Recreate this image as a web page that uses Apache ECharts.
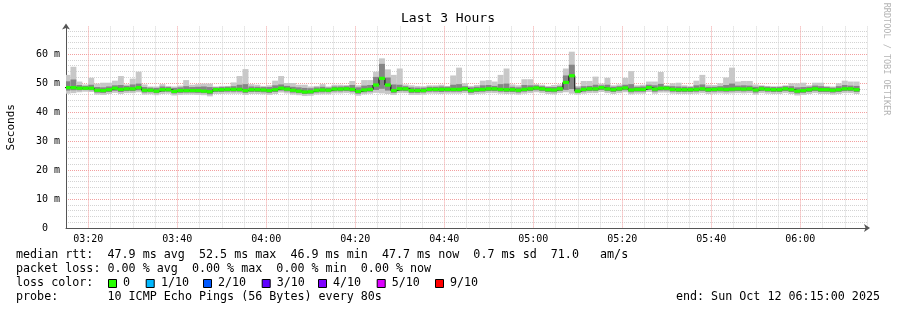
<!DOCTYPE html>
<html><head><meta charset="utf-8">
<script src="https://cdn.jsdelivr.net/npm/echarts@6/dist/echarts.min.js"></script>
<style>html,body{margin:0;padding:0;background:#fff}#c{width:897px;height:310px}</style>
</head><body><div id="c"></div>
<script>
// ---- time layout (minutes after 03:15:00), 80 s steps ----
const stepSeconds = 80;
const firstStepEndMin = 1;            // first 80 s boundary after 03:15:00
const xMinMinutes = 0, xMaxMinutes = 180;
const xTickMinutes = [5, 25, 45, 65, 85, 105, 125, 145, 165];
const xTickLabels = ['03:20','03:40','04:00','04:20','04:40','05:00','05:20','05:40','06:00'];
const yTickValues = [0, 10, 20, 30, 40, 50, 60];
const yTickLabels = ['0  ', '10 m', '20 m', '30 m', '40 m', '50 m', '60 m'];

// ---- per-step values (ms) ----
const med = [
48.4,48.4,48.2,48.2,48.2,47.5,47.4,47.7,48.2,47.8,
48.0,48.0,48.4,47.5,47.5,47.2,47.7,47.7,47.1,47.4,
47.4,47.4,47.4,47.2,47.0,47.7,47.7,47.8,47.8,47.8,
47.4,47.7,47.7,47.6,47.4,47.7,48.2,47.9,47.5,47.2,
46.9,47.0,47.5,47.6,47.5,47.9,47.9,48.0,47.8,47.1,
47.6,47.8,49.3,51.6,49.3,47.4,48.0,48.0,47.4,47.4,
47.4,47.8,47.8,47.8,47.8,47.8,47.8,48.0,47.4,47.7,
47.8,48.0,48.0,47.8,47.7,47.7,47.5,47.8,48.0,48.3,
48.0,47.7,47.6,48.0,50.2,52.5,47.2,47.8,48.0,48.0,
48.4,48.0,47.7,48.0,48.3,47.6,47.8,47.8,48.4,47.9,
48.2,48.2,47.8,47.7,47.7,47.7,47.8,48.0,47.7,47.8,
47.9,47.8,47.9,48.0,47.9,48.0,47.6,48.0,47.8,47.7,
47.7,48.0,47.7,47.2,47.4,47.7,48.0,47.7,47.7,47.5,
47.7,48.0,48.0,47.7];
const maxV = [
52.8,55.6,50.5,49.5,51.8,49.8,50.1,50.1,50.8,52.4,
49.5,51.5,53.9,49.5,48.8,48.8,49.6,49.0,48.8,49.1,
51.0,49.4,49.6,49.8,49.8,48.8,49.0,49.0,50.2,52.4,
54.8,49.6,49.4,49.0,49.2,50.8,52.4,50.0,50.0,49.4,
49.4,48.8,49.0,49.6,48.8,49.4,49.4,49.3,50.7,49.2,
51.0,51.0,53.9,58.5,54.7,52.8,55.0,49.5,49.2,49.0,
48.9,49.2,49.2,49.4,49.0,52.6,55.3,49.9,49.0,49.3,
50.8,51.0,50.5,52.8,55.0,49.5,49.2,51.3,51.3,49.6,
49.4,49.0,49.3,49.5,55.0,60.8,49.0,50.7,50.7,52.2,
49.8,51.8,49.2,49.5,51.8,54.1,49.2,49.4,50.5,50.5,
53.8,49.2,49.9,50.1,49.2,49.0,50.8,52.8,49.4,49.3,
49.9,51.9,55.3,50.5,50.7,50.7,49.5,49.2,49.0,48.9,
49.0,49.2,49.9,49.9,50.1,49.2,50.1,50.1,49.0,48.8,
49.9,50.8,50.5,50.5];
const hiV = [
50.6,51.2,49.3,49.0,49.4,48.6,48.5,48.8,49.2,49.3,
49.0,49.5,49.8,48.6,48.4,48.3,48.8,48.6,48.3,48.5,
48.9,48.6,48.7,48.8,48.6,48.5,48.6,48.7,48.9,49.4,
49.6,48.8,48.7,48.6,48.6,49.2,49.5,49.0,48.7,48.5,
48.3,48.2,48.5,48.7,48.4,48.8,48.8,48.9,49.3,48.5,
49.1,49.3,52.1,56.6,51.9,49.5,49.4,48.9,48.5,48.4,
48.4,48.7,48.7,48.8,48.7,49.4,49.6,48.9,48.5,48.7,
49.2,49.3,49.0,49.6,49.8,48.7,48.5,49.3,49.2,49.2,
48.9,48.6,48.6,48.9,52.6,56.3,48.4,48.9,49.0,49.4,
49.2,49.4,48.7,48.9,49.4,49.6,48.7,48.8,49.4,49.2,
49.7,49.0,48.9,48.8,48.7,48.6,49.2,49.5,48.7,48.7,
48.9,49.3,49.8,49.1,49.2,49.1,48.7,48.9,48.7,48.6,
48.6,48.9,48.9,48.5,48.6,48.7,49.1,48.9,48.6,48.4,
48.9,49.3,49.1,49.0];
const loV = [
47.4,47.5,47.5,47.6,47.5,46.7,46.6,46.9,47.3,46.9,
47.2,47.2,47.5,46.7,46.8,46.5,46.9,47.0,46.4,46.6,
46.7,46.7,46.6,46.5,46.1,46.9,46.9,47.0,47.0,47.0,
46.6,46.9,46.9,46.8,46.6,46.9,47.4,47.1,46.7,46.5,
46.2,46.3,46.7,46.8,46.8,47.1,47.1,47.2,47.0,46.3,
46.8,47.0,47.6,48.0,47.4,46.6,47.2,47.2,46.6,46.6,
46.7,47.0,47.0,46.9,47.0,47.0,47.0,47.2,46.6,46.9,
47.0,47.2,47.2,47.0,46.9,46.9,46.7,47.0,47.2,47.5,
47.2,46.9,46.8,47.2,47.6,47.9,46.6,47.0,47.2,47.2,
47.6,47.2,46.9,47.2,47.5,46.8,47.0,47.0,47.6,47.0,
47.4,47.4,47.0,46.9,46.9,46.9,47.0,47.2,46.9,47.0,
47.1,47.0,47.1,47.2,47.1,47.2,46.7,47.2,47.0,46.9,
46.9,47.2,46.9,46.4,46.6,46.9,47.2,46.9,46.9,46.7,
46.9,47.2,47.2,46.9];
const minV = [
46.3,46.5,46.8,47.0,46.9,46.0,45.9,46.2,46.6,46.2,
46.5,46.5,46.8,46.0,46.1,45.8,46.2,46.3,45.7,45.9,
46.0,46.0,45.9,45.8,45.4,46.2,46.2,46.3,46.3,46.3,
45.9,46.2,46.2,46.1,45.9,46.2,46.7,46.4,46.0,45.8,
45.5,45.6,46.0,46.1,46.1,46.4,46.4,46.5,46.3,45.6,
46.1,46.3,46.6,46.4,46.2,45.9,46.5,46.5,45.9,45.9,
46.0,46.3,46.3,46.2,46.3,46.3,46.3,46.5,45.9,46.2,
46.3,46.5,46.5,46.3,46.2,46.2,46.0,46.3,46.5,46.8,
46.5,46.2,46.1,46.5,46.8,46.3,46.0,46.3,46.5,46.5,
46.9,46.5,46.2,46.5,46.8,46.1,46.3,46.3,46.9,46.3,
46.7,46.7,46.3,46.2,46.2,46.2,46.3,46.5,46.2,46.3,
46.4,46.3,46.4,46.5,46.4,46.5,46.0,46.5,46.3,46.2,
46.2,46.5,46.2,45.7,45.9,46.2,46.5,46.2,46.2,46.0,
46.2,46.5,46.5,46.2];

// ---- legend texts ----
const legendLine1 = 'median rtt:  47.9 ms avg  52.5 ms max  46.9 ms min  47.7 ms now  0.7 ms sd  71.0   am/s';
const legendLine2 = 'packet loss: 0.00 % avg  0.00 % max  0.00 % min  0.00 % now';
const legendLine3 = 'loss color:';
const lossLabels = ['0', '1/10', '2/10', '3/10', '4/10', '5/10', '9/10'];
const lossColors = ['#26ff00', '#00b8ff', '#0059ff', '#5e00ff', '#7e00ff', '#dd00ff', '#ff0000'];
const legendLine4 = 'probe:       10 ICMP Echo Pings (56 Bytes) every 80s';
const endText = 'end: Sun Oct 12 06:15:00 2025';
const titleText = 'Last 3 Hours';
const yName = 'Seconds';
const watermark = 'RRDTOOL / TOBI OETIKER';

// ---- build series data ----
const stepMin = stepSeconds / 60;
const smokeData = [], medData = [], lineData = [];
for (let j = 0; j < med.length; j++) {
  const e = firstStepEndMin + j * stepMin;
  const s = e - stepMin;
  smokeData.push([s, e, minV[j], loV[j], hiV[j], maxV[j]]);
  medData.push([s, e, med[j]]);
  lineData.push([s, med[j]]);
  if (j === med.length - 1) lineData.push([e, med[j]]);
}

const MONO = '"DejaVu Sans Mono", monospace';
const GREY = '#d3d3d3', RED = '#f2a0a0';

function clipR(r, cs) {
  return echarts.graphic.clipRectByRect(r, {x: cs.x, y: cs.y, width: cs.width, height: cs.height});
}
function renderSmoke(params, api) {
  const s = api.value(0), e = api.value(1);
  const cs = params.coordSys;
  const bands = [[2, 5, '#c8c8c8'], [3, 4, '#858585']];
  const children = [];
  for (const [a, b, color] of bands) {
    const p1 = api.coord([s, api.value(b)]);
    const p2 = api.coord([e, api.value(a)]);
    const r = clipR({x: p1[0], y: p1[1], width: p2[0] - p1[0], height: p2[1] - p1[1]}, cs);
    if (r) children.push({type: 'rect', shape: r, style: {fill: color}});
  }
  return {type: 'group', children};
}
function renderMed(params, api) {
  const s = api.value(0), e = api.value(1), v = api.value(2);
  const p1 = api.coord([s, v]), p2 = api.coord([e, v]);
  const r = clipR({x: p1[0], y: p1[1] - 1.6, width: p2[0] - p1[0], height: 3.2}, params.coordSys);
  return r ? {type: 'rect', shape: r, style: {fill: lossColors[0]}} : null;
}

const graphics = [
  {type: 'text', x: 448, y: 19, style: {text: titleText, fontFamily: MONO, fontSize: 13, fill: '#000', align: 'center', verticalAlign: 'middle'}},
  {type: 'text', x: 886, y: 59, rotation: -Math.PI / 2, style: {text: watermark, fontFamily: MONO, fontSize: 8.5, fill: '#b4b4b4', align: 'center', verticalAlign: 'middle'}},
  {type: 'text', x: 16, y: 254.5, style: {text: legendLine1, fontFamily: MONO, fontSize: 11.7, fill: '#000', verticalAlign: 'middle'}},
  {type: 'text', x: 16, y: 268.5, style: {text: legendLine2, fontFamily: MONO, fontSize: 11.7, fill: '#000', verticalAlign: 'middle'}},
  {type: 'text', x: 16, y: 282.5, style: {text: legendLine3, fontFamily: MONO, fontSize: 11.7, fill: '#000', verticalAlign: 'middle'}},
  {type: 'text', x: 16, y: 296.5, style: {text: legendLine4, fontFamily: MONO, fontSize: 11.7, fill: '#000', verticalAlign: 'middle'}},
  {type: 'text', x: 880, y: 296.5, style: {text: endText, fontFamily: MONO, fontSize: 11.7, fill: '#000', align: 'right', verticalAlign: 'middle'}}
];
const boxX = [108, 145.7, 203, 261.7, 318, 376.7, 435];
const labX = [123, 161, 218, 276.7, 333, 391.7, 450];
for (let i = 0; i < lossLabels.length; i++) {
  graphics.push({type: 'rect', x: boxX[i], y: 279, shape: {x: 0.5, y: 0.5, width: 8, height: 8}, style: {fill: lossColors[i], stroke: '#000', lineWidth: 1}});
  graphics.push({type: 'text', x: labX[i], y: 282.5, style: {text: lossLabels[i], fontFamily: MONO, fontSize: 11.7, fill: '#000', verticalAlign: 'middle'}});
}

const chart = echarts.init(document.getElementById('c'), null, {renderer: 'canvas'});
chart.setOption({
  animation: false,
  backgroundColor: '#fff',
  grid: {left: 66, right: 30, top: 26.45, bottom: 82, containLabel: false, outerBoundsMode: 'none'},
  xAxis: {
    type: 'value', min: xMinMinutes, max: xMaxMinutes, interval: 5,
    axisLine: {show: true, lineStyle: {color: '#555', width: 1}, symbol: ['none', 'arrow'], symbolSize: [6, 6], symbolOffset: [0, 3]},
    axisTick: {show: false},
    // lines every 5 min from 03:20; every 4th (03:20, 03:40, ...) is a major line
    splitLine: {show: true, showMinLine: false, lineStyle: {color: [RED, GREY, GREY, GREY], type: [1, 1], width: 1}},
    axisLabel: {
      margin: 6, fontFamily: MONO, fontSize: 10, color: '#000',
      formatter: v => { const i = xTickMinutes.indexOf(v); return i >= 0 ? xTickLabels[i] : ''; }
    }
  },
  yAxis: {
    type: 'value', min: 0, max: 69.5, interval: 2,
    name: yName, nameLocation: 'middle', nameGap: 49, nameRotate: 90,
    nameTextStyle: {fontFamily: MONO, fontSize: 11, color: '#000'},
    axisLine: {show: true, lineStyle: {color: '#555', width: 1}, symbol: ['none', 'arrow'], symbolSize: [6, 6], symbolOffset: [0, 3]},
    axisTick: {show: false},
    splitLine: {show: true, showMinLine: false, showMaxLine: false, lineStyle: {color: [GREY, GREY, GREY, GREY, RED], type: [1, 1], width: 1}},
    axisLabel: {
      margin: 6, fontFamily: MONO, fontSize: 10, color: '#000', showMaxLabel: false,
      formatter: v => { const i = yTickValues.indexOf(v); return i >= 0 ? yTickLabels[i] : ''; }
    }
  },
  series: [
    {type: 'custom', renderItem: renderSmoke, data: smokeData, encode: {x: [0, 1], y: [2, 5]}, z: 2, silent: true},
    {type: 'line', data: lineData, step: 'end', symbol: 'none', lineStyle: {color: '#000', width: 1}, z: 3, silent: true},
    {type: 'custom', renderItem: renderMed, data: medData, encode: {x: [0, 1], y: 2}, z: 4, silent: true}
  ],
  graphic: graphics
});
</script></body></html>
